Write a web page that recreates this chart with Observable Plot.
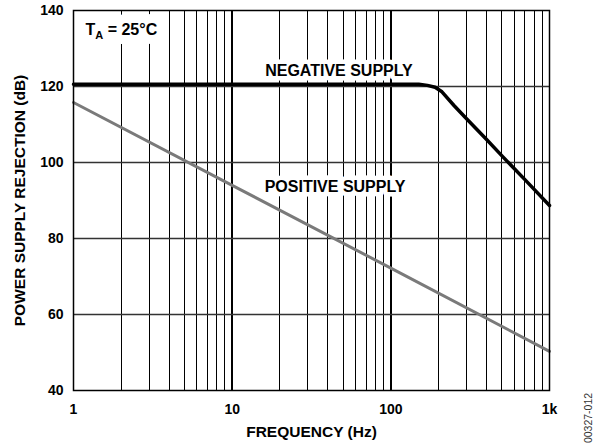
<!DOCTYPE html>
<html>
<head>
<meta charset="utf-8">
<script src="https://cdn.jsdelivr.net/npm/d3@7"></script>
<script src="https://cdn.jsdelivr.net/npm/@observablehq/plot@0.6"></script>
<style>
  html, body { margin: 0; padding: 0; background: #fff; }
  #chart { position: relative; width: 597px; height: 448px; }
  #code { position: absolute; left: 578px; top: 392px; width: 20px; height: 52px; }
  #code span { position: absolute; left: 10px; top: 26px; transform: translate(-50%, -50%) rotate(-90deg);
    font: 10.5px "Liberation Sans", Arial, sans-serif; color: #333; white-space: nowrap; }
</style>
</head>
<body>
<div id="chart"><div id="code"><span>00327-012</span></div></div>
<script>
// Negative supply PSRR (dB) vs frequency (Hz)
const negFreq = [1, 10, 100, 150, 170, 190, 210, 250, 300, 400, 500, 700, 1000];
const negPSRR = [120.6, 120.6, 120.6, 120.6, 120.3, 119.8, 118.6, 115.0, 111.5, 106.1, 101.8, 95.5, 88.7];
// Positive supply PSRR (dB) vs frequency (Hz)
const posFreq = [1, 10, 100, 1000];
const posPSRR = [115.8, 94.0, 72.2, 50.3];
// Axis ticks
const xTicks = [1, 10, 100, 1000];
const xTickLabels = ["1", "10", "100", "1k"];
const yTicks = [40, 60, 80, 100, 120, 140];
const xMinorGrid = [2,3,4,5,6,7,8,9,20,30,40,50,60,70,80,90,200,300,400,500,600,700,800,900];
const xDecadeGrid = [10, 100];
const yGrid = [60, 80, 100, 120];
// Annotations
const annoText = ["NEGATIVE SUPPLY", "POSITIVE SUPPLY"];
const annoFreq = [47.1, 44.5];
const annoDb = [124.1, 93.5];
const condText = ["TA = 25°C"];
const condFreq = [1.19];
const condDb = [135];

const neg = negFreq.map((f, i) => ({f, v: negPSRR[i]}));
const pos = posFreq.map((f, i) => ({f, v: posPSRR[i]}));
const anno = annoText.map((t, i) => ({t, f: annoFreq[i], v: annoDb[i]}));
const cond = condText.map((t, i) => ({t, f: condFreq[i], v: condDb[i]}));

const font = '"Liberation Sans", Arial, Helvetica, sans-serif';

const plot = Plot.plot({
  width: 597,
  height: 448,
  marginLeft: 73,
  marginRight: 48,
  marginTop: 10,
  marginBottom: 58,
  style: {fontFamily: font, background: "#fff", color: "#000", overflow: "visible"},
  x: {type: "log", domain: [1, 1000]},
  y: {domain: [40, 140]},
  marks: [
    Plot.ruleX(xMinorGrid, {stroke: "#000", strokeWidth: 1, shapeRendering: "crispEdges"}),
    Plot.ruleX(xDecadeGrid, {stroke: "#000", strokeWidth: 2, shapeRendering: "crispEdges"}),
    Plot.ruleY(yGrid, {stroke: "#333", strokeWidth: 1.5}),
    Plot.text(anno, {x: "f", y: "v", text: "t", fontSize: 16, fontWeight: "bold", fill: "#000",
      stroke: "#fff", strokeWidth: 9, textAnchor: "middle"}),
    Plot.text(cond, {x: "f", y: "v", text: "t", fontSize: 16, fontWeight: "bold", fill: "#fff",
      stroke: "#fff", strokeWidth: 18, textAnchor: "start"}),
    Plot.text(cond, {x: "f", y: "v", text: "t", fontSize: 16, fontWeight: "bold", fill: "#000",
      textAnchor: "start"}),
    Plot.line(pos, {x: "f", y: "v", stroke: "#7a7a7a", strokeWidth: 3}),
    Plot.line(neg, {x: "f", y: "v", stroke: "#000", strokeWidth: 3.5}),
    Plot.frame({stroke: "#000", strokeWidth: 1.5}),
    Plot.axisX({ticks: xTicks, tickFormat: d => xTickLabels[xTicks.indexOf(d)], tickSize: 0, tickPadding: 14,
      fontSize: 14, fontWeight: "bold", label: "FREQUENCY (Hz)", labelArrow: "none", labelAnchor: "center", labelOffset: 46}),
    Plot.axisY({ticks: yTicks, tickSize: 0, tickPadding: 10, fontSize: 14, fontWeight: "bold",
      label: "POWER SUPPLY REJECTION (dB)", labelArrow: "none", labelAnchor: "center", labelOffset: 60})
  ]
});

document.getElementById("chart").prepend(plot);

// subscript "A" in T_A
d3.select(plot).selectAll("text").filter(function() { return this.textContent === "TA = 25°C"; })
  .each(function() {
    const t = d3.select(this);
    t.text(null);
    t.append("tspan").text("T");
    t.append("tspan").attr("font-size", 11).attr("dy", 4).text("A");
    t.append("tspan").attr("dy", -4).text(" = 25°C");
  });

// axis titles: bold, no arrows
d3.select(plot).selectAll('[aria-label="x-axis label"] text, [aria-label="y-axis label"] text')
  .attr("font-size", 15.5).attr("font-weight", "bold")
  .each(function() { this.textContent = this.textContent.replace(/\s*[←→↑↓]\s*/g, "").trim(); });
</script>
</body>
</html>
